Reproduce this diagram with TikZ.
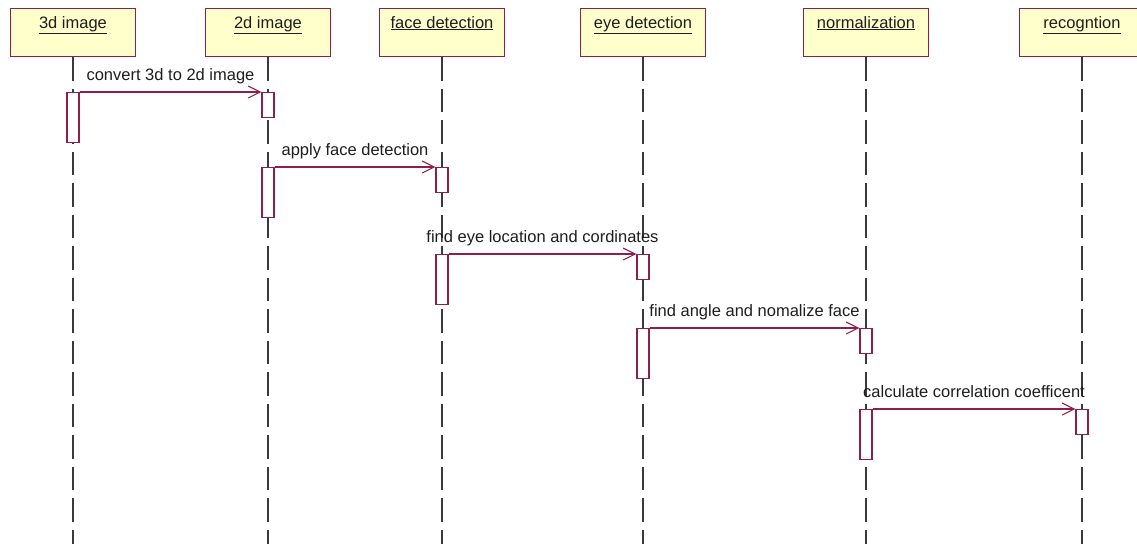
\documentclass[tikz,border=0pt]{standalone}
\usepackage{fontspec}
\setmainfont{Liberation Sans}
\usetikzlibrary{arrows.meta}
\definecolor{umlborder}{HTML}{8E1F4C}
\definecolor{umlfill}{HTML}{FFFFCC}
\definecolor{lifegray}{HTML}{3A3A3A}
\definecolor{txt}{HTML}{1E1E1E}
\tikzset{
  head/.style={draw=umlborder, fill=umlfill, line width=1.1pt, minimum width=125pt,
    minimum height=48pt, inner sep=0pt, anchor=north},
  headtxt/.style={anchor=base, inner sep=0pt, text=txt, font=\fontsize{16.5}{19}\selectfont},
  lifeline/.style={draw=lifegray, line width=1.5pt, dash pattern=on 23.5pt off 8pt},
  act/.style={draw=umlborder, fill=white, line width=1.1pt, minimum width=12pt,
    inner sep=0pt, anchor=north},
  sendbar/.style={act, minimum height=50pt},
  recvbar/.style={act, minimum height=25pt},
  msg/.style={draw=umlborder, line width=1.1pt,
    -{Straight Barb[length=12pt, width=12pt, line width=1.1pt]}},
  msgtxt/.style={anchor=base, inner sep=0pt, text=txt, font=\fontsize{16.5}{19}\selectfont}
}
\begin{document}
\begin{tikzpicture}[x=1pt, y=-1pt]
  \fill[white] (0,0) rectangle (1137,544);
  \clip (0,0) rectangle (1137,544);

  % participants
  \node[head] (h1) at (73,8) {};
  \node[head] (h2) at (268,8) {};
  \node[head] (h3) at (442,8) {};
  \node[head] (h4) at (643,8) {};
  \node[head] (h5) at (866,8) {};
  \node[head] (h6) at (1082,8) {};
  \node[headtxt] (n1) at (73,28) {\underline{3d image}};
  \node[headtxt] (n2) at (268,28) {\underline{2d image}};
  \node[headtxt] (n3) at (442,28) {\underline{face detection}};
  \node[headtxt] (n4) at (643,28) {\underline{eye detection}};
  \node[headtxt] (n5) at (866,28) {\underline{normalization}};
  \node[headtxt] (n6) at (1082,28) {\underline{recogntion}};

  % lifelines
  \foreach \h in {h1,h2,h3,h4,h5,h6}
    \draw[lifeline] (\h.south) -- (\h.south |- 0,544);

  % activation bars
  \node[sendbar] (s1) at (73,92) {};
  \node[recvbar] (r1) at (268,92) {};
  \node[sendbar] (s2) at (268,167) {};
  \node[recvbar] (r2) at (442,167) {};
  \node[sendbar] (s3) at (442,254) {};
  \node[recvbar] (r3) at (643,254) {};
  \node[sendbar] (s4) at (643,328) {};
  \node[recvbar] (r4) at (866,328) {};
  \node[sendbar] (s5) at (866,409) {};
  \node[recvbar] (r5) at (1082,409) {};

  % messages
  \draw[msg] (s1.north east) -- (r1.north west)
    node[msgtxt, midway, yshift=12pt] (m1) {convert 3d to 2d image};
  \draw[msg] (s2.north east) -- (r2.north west)
    node[msgtxt, midway, yshift=12pt] (m2) {apply face detection};
  \draw[msg] (s3.north east) -- (r3.north west)
    node[msgtxt, midway, yshift=12pt] (m3) {find eye location and cordinates};
  \draw[msg] (s4.north east) -- (r4.north west)
    node[msgtxt, midway, yshift=12pt] (m4) {find angle and nomalize face};
  \draw[msg] (s5.north east) -- (r5.north west)
    node[msgtxt, midway, yshift=12pt] (m5) {calculate correlation coefficent};
\end{tikzpicture}
\end{document}
